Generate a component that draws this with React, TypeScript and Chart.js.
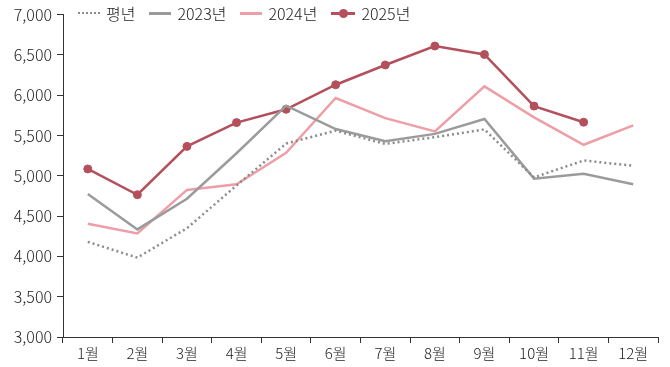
import React, { useEffect, useRef } from "react";
import { Chart, registerables } from "chart.js";

Chart.register(...registerables);

const months = ["1월", "2월", "3월", "4월", "5월", "6월", "7월", "8월", "9월", "10월", "11월", "12월"];
const normal = [4180, 3985, 4350, 4880, 5400, 5560, 5395, 5480, 5575, 4980, 5190, 5125];
const y2023 = [4775, 4335, 4715, 5280, 5870, 5580, 5430, 5520, 5705, 4965, 5025, 4895];
const y2024 = [4405, 4285, 4825, 4895, 5285, 5965, 5715, 5550, 6110, 5725, 5385, 5625];
const y2025 = [5085, 4765, 5365, 5660, 5825, 6130, 6375, 6610, 6505, 5865, 5665, null];

const C_NORMAL = "#8c8c8c";
const C_2023 = "#9b9b9b";
const C_2024 = "#ee9ea6";
const C_2025 = "#b4505c";
const FONT = "'Noto Sans CJK KR', 'Noto Sans', sans-serif";
const TEXT = "#222";

export default function App() {
  const ref = useRef<HTMLCanvasElement>(null);
  useEffect(() => {
    const ctx = ref.current!;
    const chart = new Chart(ctx, {
      type: "line",
      data: {
        labels: months,
        datasets: [
          { label: "평년", data: normal, borderColor: C_NORMAL, borderWidth: 2.5, borderDash: [2, 3], pointRadius: 0, tension: 0 },
          { label: "2023년", data: y2023, borderColor: C_2023, borderWidth: 2.5, pointRadius: 0, tension: 0 },
          { label: "2024년", data: y2024, borderColor: C_2024, borderWidth: 2.5, pointRadius: 0, tension: 0 },
          { label: "2025년", data: y2025, borderColor: C_2025, backgroundColor: C_2025, borderWidth: 2.5, pointRadius: 4, pointBorderWidth: 1, pointHoverRadius: 4, tension: 0 },
        ],
      },
      options: {
        animation: false,
        responsive: false,
        maintainAspectRatio: false,
        layout: { padding: { top: 14, right: 12, left: 0, bottom: 0 } },
        plugins: { legend: { display: false }, tooltip: { enabled: false } },
        scales: {
          x: {
            offset: true,
            grid: { offset: true, drawOnChartArea: false, drawTicks: true, tickLength: 6, color: "#333", lineWidth: 1 },
            border: { display: true, color: "#333", width: 1 },
            ticks: { color: TEXT, font: { family: FONT, size: 15, weight: "300" }, padding: 1, maxRotation: 0, autoSkip: false },
            afterFit: (s: any) => { s.height = 30; },
          },
          y: {
            min: 3000,
            max: 7000,
            grid: { drawOnChartArea: false, drawTicks: true, tickLength: 6, color: "#333", lineWidth: 1 },
            border: { display: true, color: "#333", width: 1 },
            ticks: {
              stepSize: 500,
              color: TEXT,
              font: { family: FONT, size: 16, weight: "300" },
              padding: 5,
              callback: (v: any) => Number(v).toLocaleString("en-US"),
            },
            afterFit: (s: any) => { s.width = 63; },
          },
        },
      },
    });
    return () => chart.destroy();
  }, []);

  const item = (el: React.ReactNode, text: string) => (
    <div style={{ display: "flex", alignItems: "center", marginRight: 14 }}>
      {el}
      <span style={{ marginLeft: 6 }}>{text}</span>
    </div>
  );

  return (
    <div style={{ position: "fixed", left: 0, top: 0, width: 670, height: 367, background: "#fff" }}>
      <canvas ref={ref} width={670} height={367} style={{ width: 670, height: 367, display: "block" }} />
      <div
        style={{
          position: "absolute",
          left: 78,
          top: 2,
          display: "flex",
          alignItems: "center",
          fontFamily: FONT,
          fontSize: 16,
          fontWeight: 300,
          color: TEXT,
          lineHeight: "22px",
        }}
      >
        {item(<div style={{ width: 22, borderTop: `2.5px dotted ${C_NORMAL}` }} />, "평년")}
        {item(<div style={{ width: 22, height: 3, background: C_2023 }} />, "2023년")}
        {item(<div style={{ width: 22, height: 3, background: C_2024 }} />, "2024년")}
        {item(
          <div style={{ position: "relative", width: 24, height: 10 }}>
            <div style={{ position: "absolute", left: 0, top: 3.5, width: 24, height: 3, background: C_2025 }} />
            <div style={{ position: "absolute", left: 7.5, top: 1, width: 9, height: 9, borderRadius: 5, background: C_2025 }} />
          </div>,
          "2025년"
        )}
      </div>
    </div>
  );
}
